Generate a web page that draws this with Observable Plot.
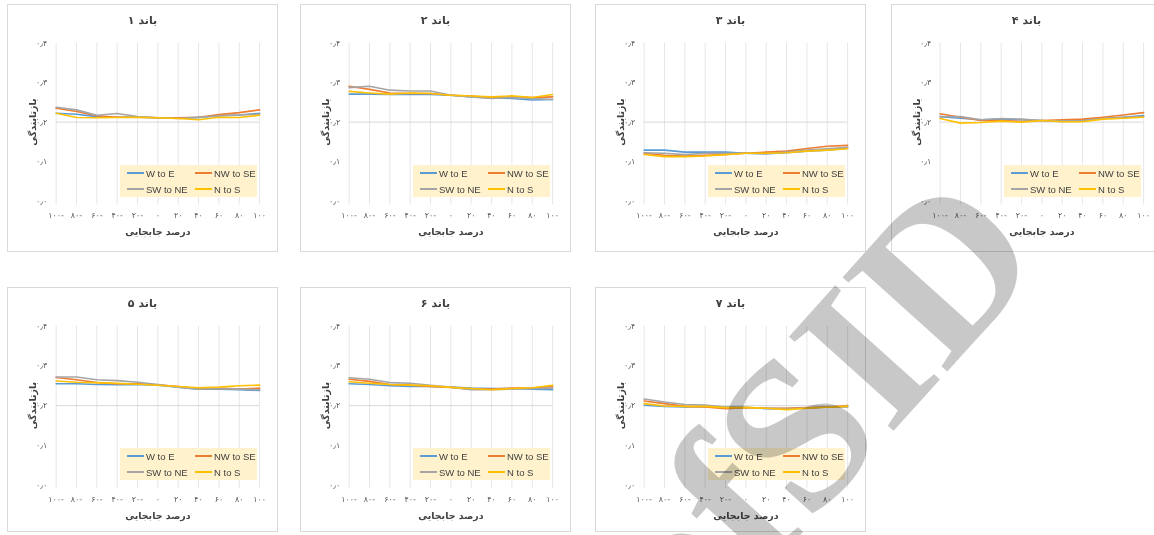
<!DOCTYPE html>
<html><head><meta charset="utf-8">
<script src="https://cdn.jsdelivr.net/npm/d3@7"></script>
<script src="https://cdn.jsdelivr.net/npm/@observablehq/plot@0.6"></script>
<style>
html,body{margin:0;padding:0;background:#fff}
body{width:1154px;height:535px;overflow:hidden;position:relative;font-family:"DejaVu Sans",sans-serif}
.panel{position:absolute;border:1px solid #d9d9d9;box-sizing:border-box;background:#fff}
.panel svg{position:absolute;left:-1px;top:-1px}
.title{position:absolute;left:0;width:100%;text-align:center;top:9px;font:bold 11px "DejaVu Sans";color:#404040;direction:rtl}
.legend{position:absolute;left:112px;top:160px;width:137px;height:32px;background:#fff2cc;font:9.5px "Liberation Sans",sans-serif;color:#404040}
.item{position:absolute;display:flex;align-items:center;white-space:nowrap;height:10px}
.sw{width:17px;height:1.6px;margin-right:2px}
.wm{position:absolute;left:815px;top:410px;transform:translate(-50%,-50%) rotate(-48deg);font:bold 215px "Liberation Serif",serif;color:#c8c8c8;mix-blend-mode:multiply;white-space:nowrap;line-height:1;pointer-events:none}
</style></head><body>
<script>
const xs = [-100, -80, -60, -40, -20, 0, 20, 40, 60, 80, 100];
const yTicks = [0, 0.1, 0.2, 0.3, 0.4];
const series = ["W to E", "NW to SE", "SW to NE", "N to S"];
const colors = ["#5b9bd5", "#ed7d31", "#a5a5a5", "#ffc000"];
const bandNames = ["باند ۱", "باند ۲", "باند ۳", "باند ۴", "باند ۵", "باند ۶", "باند ۷"];
const xTitle = "درصد جابجایی";
const yTitle = "بازتابندگی";

// each band: [W to E, NW to SE, SW to NE, N to S]
const band1 = [
  [0.2225,0.220,0.214,0.2125,0.2125,0.211,0.210,0.212,0.216,0.218,0.2225],
  [0.235,0.227,0.216,0.2125,0.2125,0.211,0.211,0.2125,0.219,0.224,0.231],
  [0.2375,0.231,0.2175,0.222,0.214,0.211,0.209,0.212,0.216,0.218,0.220],
  [0.2225,0.2115,0.211,0.2115,0.2125,0.211,0.209,0.206,0.2125,0.2115,0.2175]
];
const band2 = [
  [0.271,0.271,0.270,0.270,0.270,0.268,0.264,0.262,0.260,0.256,0.2575],
  [0.291,0.283,0.274,0.2725,0.2725,0.268,0.266,0.2625,0.264,0.262,0.264],
  [0.2875,0.291,0.281,0.279,0.279,0.268,0.264,0.260,0.2625,0.260,0.2575],
  [0.278,0.274,0.271,0.274,0.2725,0.268,0.266,0.264,0.2665,0.2625,0.270]
];
const band3 = [
  [0.129,0.129,0.124,0.124,0.124,0.121,0.120,0.1225,0.1265,0.129,0.134],
  [0.121,0.116,0.114,0.116,0.118,0.121,0.124,0.1265,0.133,0.139,0.141],
  [0.1225,0.121,0.1175,0.121,0.121,0.121,0.120,0.124,0.129,0.1325,0.136],
  [0.118,0.1125,0.1125,0.114,0.1175,0.121,0.121,0.1225,0.1265,0.129,0.1325]
];
const band4 = [
  [0.214,0.210,0.206,0.2075,0.206,0.204,0.2015,0.206,0.209,0.2125,0.2165],
  [0.221,0.2125,0.204,0.204,0.2015,0.204,0.206,0.2075,0.2125,0.218,0.224],
  [0.214,0.214,0.206,0.209,0.2075,0.204,0.2025,0.204,0.209,0.2125,0.214],
  [0.209,0.1975,0.199,0.2025,0.200,0.204,0.201,0.201,0.2075,0.210,0.2125]
];
const band5 = [
  [0.255,0.255,0.253,0.2525,0.253,0.2515,0.2465,0.2415,0.2415,0.240,0.238],
  [0.271,0.265,0.258,0.255,0.255,0.2525,0.248,0.243,0.244,0.2415,0.244],
  [0.272,0.272,0.265,0.263,0.259,0.253,0.2465,0.2415,0.243,0.2415,0.240],
  [0.262,0.259,0.258,0.256,0.254,0.2515,0.248,0.245,0.2465,0.250,0.2515]
];
const band6 = [
  [0.255,0.253,0.250,0.248,0.248,0.2465,0.244,0.243,0.243,0.2415,0.240],
  [0.2665,0.261,0.253,0.2515,0.248,0.246,0.2415,0.2415,0.244,0.244,0.248],
  [0.270,0.2665,0.258,0.2565,0.2515,0.2465,0.240,0.240,0.2415,0.243,0.244],
  [0.260,0.2565,0.253,0.2515,0.250,0.246,0.243,0.240,0.243,0.245,0.2515]
];
const band7 = [
  [0.201,0.198,0.1965,0.198,0.1965,0.195,0.1925,0.1925,0.194,0.1965,0.1965],
  [0.2115,0.205,0.198,0.1965,0.1925,0.195,0.1935,0.1935,0.195,0.1965,0.200],
  [0.2165,0.209,0.203,0.2015,0.1965,0.195,0.1935,0.1915,0.194,0.1965,0.198],
  [0.205,0.199,0.198,0.198,0.195,0.195,0.1935,0.190,0.1935,0.196,0.198]
];
const bands = [band1, band2, band3, band4, band5, band6, band7];

const fa = s => String(s).replace(/\d/g, c => "۰۱۲۳۴۵۶۷۸۹"[c]);
const xFmt = d => d < 0 ? fa(-d) + "-" : fa(d);
const yFmt = d => fa(d.toFixed(1)).replace(".", "٫");

const lefts = [7, 300, 595, 891];
const tops = [4, 287];
const heights = [248, 245];

bands.forEach((band, i) => {
  const row = i < 4 ? 0 : 1, col = i % 4;
  const W = 271, H = heights[row];
  const panel = document.createElement("div");
  panel.className = "panel";
  panel.style.left = lefts[col] + "px";
  panel.style.top = tops[row] + "px";
  panel.style.width = W + "px";
  panel.style.height = H + "px";
  document.body.appendChild(panel);

  const data = series.flatMap((s, si) => xs.map((x, j) => ({x, y: band[si][j], s})));
  const chart = Plot.plot({
    width: W, height: H,
    marginLeft: 49, marginRight: 17, marginTop: 39, marginBottom: H - 198 - (row ? 1 : 0),
    style: {fontFamily: "DejaVu Sans, sans-serif", background: "transparent", overflow: "visible"},
    x: {domain: [-100, 100]},
    y: {domain: [0, 0.4]},
    color: {domain: series, range: colors},
    marks: [
      Plot.ruleX(xs, {stroke: "#e6e6e6", strokeWidth: 1}),
      Plot.ruleY([0.2], {stroke: "#d9d9d9", strokeWidth: 1}),
      Plot.axisX({ticks: xs, tickFormat: xFmt, tickSize: 4, tickPadding: 7, stroke: "#e6e6e6", fill: "#595959",
        fontSize: 8, label: xTitle, labelArrow: "none", labelAnchor: "center", labelOffset: 34}),
      Plot.axisY({ticks: yTicks, tickFormat: yFmt, tickSize: 0, tickPadding: 9, fill: "#595959",
        fontSize: 8, label: yTitle, labelArrow: "none", labelAnchor: "center", labelOffset: 27}),
      Plot.line(data, {x: "x", y: "y", z: "s", stroke: "s", strokeWidth: 1.6})
    ]
  });
  chart.querySelectorAll("[aria-label='x-axis label'] text, [aria-label='y-axis label'] text").forEach(t => {
    t.textContent = t.textContent.replace(/[←→↑↓]/g, "").trim();
    t.setAttribute("font-weight", "bold");
    t.setAttribute("font-size", "9.5");
    t.setAttribute("fill", "#404040");
  });
  panel.appendChild(chart);

  const title = document.createElement("div");
  title.className = "title";
  title.textContent = bandNames[i];
  panel.appendChild(title);

  const lg = document.createElement("div");
  lg.className = "legend";
  const pos = [[7, 3], [75, 3], [7, 19], [75, 19]];
  series.forEach((s, si) => {
    const it = document.createElement("div");
    it.className = "item";
    it.style.left = pos[si][0] + "px";
    it.style.top = pos[si][1] + "px";
    const sw = document.createElement("span");
    sw.className = "sw";
    sw.style.background = colors[si];
    const tx = document.createElement("span");
    tx.textContent = s;
    it.appendChild(sw); it.appendChild(tx);
    lg.appendChild(it);
  });
  panel.appendChild(lg);
});

const wm = document.createElement("div");
wm.className = "wm";
wm.textContent = "ofSID";
document.body.appendChild(wm);
</script>
</body></html>
